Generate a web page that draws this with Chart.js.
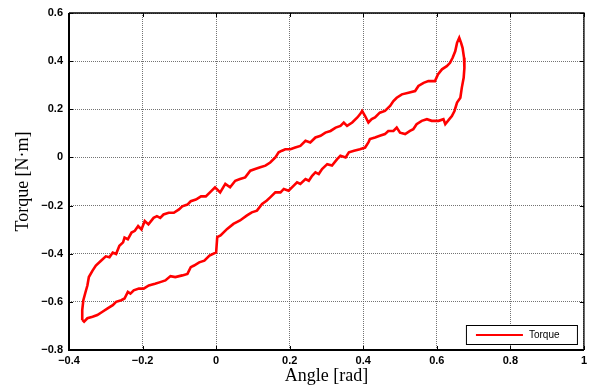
<!DOCTYPE html>
<html>
<head>
<meta charset="utf-8">
<script src="https://cdn.jsdelivr.net/npm/chart.js@4.4.1/dist/chart.umd.min.js"></script>
<style>
html,body{margin:0;padding:0;background:#fff;}
#wrap{width:591px;height:389px;}
</style>
</head>
<body>
<div id="wrap"><canvas id="c" width="591" height="389"></canvas></div>
<script>
// Data (angle in rad, torque in N·m), in drawing order:
// loading branch (upper) from bottom-left to the tip, then unloading branch (lower) back.
const angle = [
-0.364,-0.364,-0.361,-0.355,-0.350,-0.346,-0.336,-0.327,-0.313,-0.300,-0.290,-0.281,-0.272,-0.263,-0.253,-0.249,-0.240,-0.230,-0.221,-0.212,-0.203,-0.194,-0.184,-0.170,-0.161,-0.152,-0.143,-0.129,-0.115,-0.101,-0.092,-0.078,-0.069,-0.055,-0.041,-0.028,-0.014,
-0.003,0.011,0.025,0.038,0.052,0.065,0.079,0.093,0.106,0.120,0.134,0.147,0.161,0.170,0.179,0.188,0.202,0.215,0.229,0.243,0.256,0.270,0.284,0.297,0.311,0.325,0.338,0.347,0.356,0.370,0.384,
0.391,0.397,0.405,0.414,0.423,0.432,0.445,0.459,0.473,0.482,0.491,0.505,0.523,0.541,0.550,0.564,0.577,0.595,0.603,0.614,0.627,0.636,0.643,0.650,0.655,0.661,0.666,0.670,0.674,0.675,
0.673,0.668,0.664,0.655,0.648,0.641,0.634,0.623,0.618,0.605,0.586,0.573,0.559,0.545,0.536,0.527,0.514,0.500,0.491,0.482,0.468,0.459,0.445,0.432,0.418,0.414,0.405,0.391,
0.375,0.361,0.352,0.338,0.329,0.315,0.302,0.288,0.279,0.270,0.261,0.252,0.243,0.229,0.220,0.211,0.197,0.184,0.175,0.161,0.147,0.138,0.125,0.111,0.097,0.084,0.065,0.047,0.030,0.012,0.003,
0.000,-0.018,-0.032,-0.046,-0.060,-0.069,-0.078,-0.092,-0.111,-0.124,-0.138,-0.152,-0.166,-0.183,-0.197,-0.210,-0.224,-0.233,-0.240,-0.249,-0.258,-0.272,-0.281,-0.295,-0.309,-0.323,-0.336,-0.350,-0.359,-0.364
];
const torque = [
-0.675,-0.634,-0.593,-0.559,-0.532,-0.497,-0.470,-0.449,-0.429,-0.411,-0.415,-0.395,-0.401,-0.367,-0.353,-0.333,-0.340,-0.312,-0.305,-0.285,-0.299,-0.264,-0.278,-0.251,-0.244,-0.251,-0.237,-0.230,-0.230,-0.216,-0.203,-0.196,-0.182,-0.175,-0.162,-0.162,-0.141,
-0.124,-0.145,-0.110,-0.124,-0.097,-0.090,-0.083,-0.055,-0.048,-0.041,-0.034,-0.021,0.000,0.021,0.028,0.034,0.034,0.041,0.048,0.069,0.062,0.083,0.090,0.103,0.110,0.124,0.131,0.145,0.131,0.145,0.166,
0.179,0.193,0.172,0.145,0.159,0.166,0.186,0.193,0.214,0.234,0.248,0.262,0.269,0.276,0.297,0.310,0.317,0.317,0.345,0.366,0.379,0.393,0.414,0.441,0.476,0.497,0.476,0.455,0.414,0.372,
0.331,0.290,0.248,0.228,0.193,0.172,0.159,0.138,0.159,0.152,0.152,0.159,0.152,0.138,0.117,0.110,0.097,0.103,0.124,0.110,0.110,0.097,0.090,0.083,0.076,0.062,0.041,0.034,
0.028,0.021,0.000,0.007,-0.007,-0.034,-0.028,-0.048,-0.069,-0.062,-0.076,-0.097,-0.090,-0.110,-0.103,-0.117,-0.138,-0.131,-0.145,-0.145,-0.166,-0.179,-0.193,-0.221,-0.228,-0.241,-0.262,-0.276,-0.297,-0.324,-0.331,
-0.395,-0.408,-0.429,-0.436,-0.449,-0.456,-0.484,-0.490,-0.497,-0.493,-0.511,-0.518,-0.525,-0.532,-0.545,-0.545,-0.552,-0.566,-0.559,-0.586,-0.593,-0.600,-0.614,-0.627,-0.641,-0.655,-0.662,-0.668,-0.682,-0.675
];
const xTicks = [-0.4,-0.2,0,0.2,0.4,0.6,0.8,1];
const yTicks = [-0.8,-0.6,-0.4,-0.2,0,0.2,0.4,0.6];
const seriesName = 'Torque';
const xTitle = 'Angle [rad]';
const yTitle = 'Torque [N\u00b7m]';

const points = angle.map((a,i)=>({x:a,y:torque[i]}));

function fmt(v){
  if (Math.abs(v) < 1e-9) return '0';
  if (Math.abs(v-1) < 1e-9) return '1';
  let s = Math.abs(v).toFixed(1);
  return (v<0?'\u2212':'') + s;
}

const boxPlugin = {
  id:'box',
  afterDatasetsDraw(chart){
    const {ctx, chartArea:a, scales} = chart;
    ctx.save();
    ctx.strokeStyle = '#000';
    const tl = 4;
    ctx.lineWidth = 1;
    ctx.beginPath();
    xTicks.forEach(v=>{
      const px = Math.round(scales.x.getPixelForValue(v))+0.5;
      ctx.moveTo(px,a.bottom); ctx.lineTo(px,a.bottom-tl);
      ctx.moveTo(px,a.top); ctx.lineTo(px,a.top+tl);
    });
    yTicks.forEach(v=>{
      const py = Math.round(scales.y.getPixelForValue(v))+0.5;
      ctx.moveTo(a.left,py); ctx.lineTo(a.left+tl,py);
      ctx.moveTo(a.right,py); ctx.lineTo(a.right-tl,py);
    });
    ctx.stroke();
    ctx.lineWidth = 1.3;
    ctx.beginPath();
    ctx.moveTo(a.left,a.top); ctx.lineTo(a.right,a.top); ctx.lineTo(a.right,a.bottom);
    ctx.stroke();
    ctx.lineWidth = 2;
    ctx.beginPath();
    ctx.moveTo(a.left,a.top); ctx.lineTo(a.left,a.bottom); ctx.lineTo(a.right,a.bottom);
    ctx.stroke();
    ctx.restore();
  },
  afterDraw(chart){
    const {ctx, chartArea:a} = chart;
    ctx.save();
    const w = 111, h = 19;
    const x0 = a.right - 7 - w, y0 = a.bottom - 6 - h;
    ctx.fillStyle = '#fff';
    ctx.fillRect(x0,y0,w,h);
    ctx.strokeStyle = '#000';
    ctx.lineWidth = 1;
    ctx.strokeRect(x0+0.5,y0+0.5,w,h);
    ctx.strokeStyle = '#ff0000';
    ctx.lineWidth = 2;
    ctx.beginPath();
    ctx.moveTo(x0+10,y0+h/2+0.5); ctx.lineTo(x0+57,y0+h/2+0.5);
    ctx.stroke();
    ctx.fillStyle = '#000';
    ctx.font = '10px "Liberation Sans", Arial, sans-serif';
    ctx.textBaseline = 'middle';
    ctx.textAlign = 'left';
    ctx.fillText(seriesName, x0+63, y0+h/2+1);
    ctx.restore();
  }
};

new Chart(document.getElementById('c'), {
  type:'scatter',
  data:{datasets:[{
    label:seriesName,
    data:points,
    showLine:true,
    borderColor:'#ff0000',
    backgroundColor:'#ff0000',
    borderWidth:2.6,
    pointRadius:0,
    tension:0,
    clip:false
  }]},
  options:{
    responsive:false,
    animation:false,
    devicePixelRatio:1,
    layout:{padding:{top:13,right:7,left:0,bottom:0}},
    plugins:{legend:{display:false},tooltip:{enabled:false}},
    scales:{
      x:{
        type:'linear',min:-0.4,max:1,
        afterBuildTicks(s){ s.ticks = xTicks.map(v=>({value:v})); },
        afterFit(s){ s.height = 39; },
        grid:{color:'rgba(90,90,90,0.85)',lineWidth:1,drawTicks:false},
        border:{display:false,dash:[1,1]},
        ticks:{color:'#000',padding:4,maxRotation:0,autoSkip:false,
          font:{family:'"Liberation Sans", Arial, sans-serif',size:11,weight:'bold'},
          callback:(v)=>fmt(v)},
        title:{display:true,text:xTitle,color:'#000',
          font:{family:'"Liberation Serif", "Times New Roman", serif',size:18},
          padding:{top:0,bottom:2}}
      },
      y:{
        type:'linear',min:-0.8,max:0.6,
        afterBuildTicks(s){ s.ticks = yTicks.map(v=>({value:v})); },
        afterFit(s){ s.width = 69; },
        grid:{color:'rgba(90,90,90,0.85)',lineWidth:1,drawTicks:false},
        border:{display:false,dash:[1,1]},
        ticks:{color:'#000',padding:6,autoSkip:false,
          font:{family:'"Liberation Sans", Arial, sans-serif',size:11,weight:'bold'},
          callback:(v)=>fmt(v)},
        title:{display:true,text:yTitle,color:'#000',
          font:{family:'"Liberation Serif", "Times New Roman", serif',size:18},
          padding:{top:12,bottom:0}}
      }
    }
  },
  plugins:[boxPlugin]
});
</script>
</body>
</html>
